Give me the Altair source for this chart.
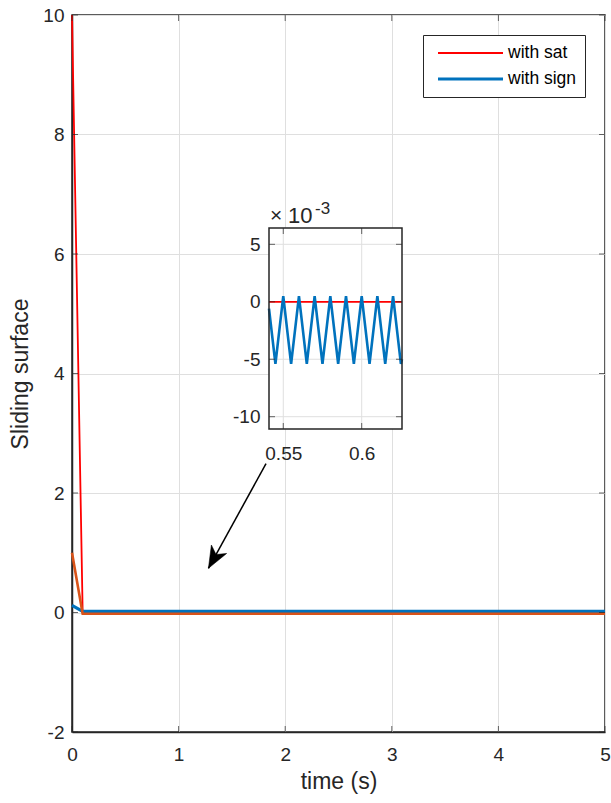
import altair as alt
import pandas as pd

FONT = "Liberation Sans"
AX = "#262626"
GRID = "#dfdfdf"

# ---------------- main plot data ----------------
x_ticks = [0, 1, 2, 3, 4, 5]
y_ticks = [-2, 0, 2, 4, 6, 8, 10]
x_domain = [0, 5]
y_domain = [-2, 10]

t_main = [0.0, 0.1, 5.0]
sat_main = [10.0, 0.0, 0.0]
sign_main = [0.12, 0.02, 0.02]
ref_main = [1.0, -0.02, -0.02]

series_names = ["with sat", "with sign"]
series_colors = ["#FF0000", "#0072BD"]
series_widths = [1.8, 3.2]
ref_color = "#D95319"

# ---------------- inset data (values in units of 1e-3) ----------------
zx_domain = [0.5409, 0.6257]
zy_domain = [-11.07, 6.42]
zx_ticks = [0.55, 0.6]
zy_ticks = [-10, -5, 0, 5]
t_zoom = [0.5409, 0.545, 0.55, 0.555, 0.56, 0.565, 0.57, 0.575, 0.58, 0.585,
          0.59, 0.595, 0.6, 0.605, 0.61, 0.615, 0.62, 0.625, 0.6257]
sign_zoom = [-0.6, -5.4, 0.5, -5.4, 0.5, -5.4, 0.5, -5.4, 0.5, -5.4,
             0.5, -5.4, 0.5, -5.4, 0.5, -5.4, 0.5, -5.4, -5.0]
t_zoom_sat = [0.5409, 0.6257]
sat_zoom = [0.0, 0.0]
exp_times = "×"
exp_base = "10"
exp_sup = "-3"

# arrow annotation (main-plot data coordinates)
arrow_t = [1.82, 1.28]
arrow_v = [2.49, 0.74]

# ---------------- layout (pixels) ----------------
W, H = 533, 717
INSET_X = [197, 330]
INSET_Y = [414, 213]

# ---------------- scales & axes ----------------
xs = alt.Scale(domain=x_domain, nice=False, zero=False)
ys = alt.Scale(domain=y_domain, nice=False, zero=False)
zxs = alt.Scale(domain=zx_domain, range=INSET_X, nice=False, zero=False)
zys = alt.Scale(domain=zy_domain, range=INSET_Y, nice=False, zero=False)

x_axis = alt.Axis(values=x_ticks, grid=True, gridColor=GRID, ticks=False,
                  domainColor=AX, domainWidth=1.5, labelColor=AX, labelFont=FONT,
                  labelFontSize=19, labelPadding=13, labelFlush=False, title="time (s)",
                  titleFont=FONT, titleFontSize=23, titleFontWeight="normal",
                  titleColor=AX, titlePadding=6,
                  labelExpr="toString(datum.value)")
y_axis = alt.Axis(values=y_ticks, grid=True, gridColor=GRID, ticks=False,
                  domainColor=AX, domainWidth=1.5, labelColor=AX, labelFont=FONT,
                  labelFontSize=19, labelPadding=8, labelFlush=False, title="Sliding surface",
                  titleFont=FONT, titleFontSize=23, titleFontWeight="normal",
                  titleColor=AX, titlePadding=10,
                  labelExpr="toString(datum.value)")
zx_axis = alt.Axis(values=zx_ticks, orient="bottom", offset=INSET_Y[0] - H,
                   domain=False, ticks=False, grid=False, labelColor=AX,
                   labelFont=FONT, labelFontSize=19, labelPadding=15, labelFlush=False,
                   title=None, labelExpr="toString(datum.value)")
zy_axis = alt.Axis(values=zy_ticks, orient="left", offset=-INSET_X[0],
                   domain=False, ticks=False, grid=False, labelColor=AX,
                   labelFont=FONT, labelFontSize=19, labelPadding=9, labelFlush=False,
                   title=None, labelExpr="toString(datum.value)")

legend = alt.Legend(orient="none", legendX=351, legendY=20, title=None,
                    symbolType="stroke", symbolSize=4225, clipHeight=20,
                    rowPadding=6, padding=8, symbolOffset=5, labelOffset=3,
                    labelFont=FONT, labelFontSize=17.5, labelColor="#000000",
                    strokeColor=AX, fillColor="white")
color_enc = alt.Color("series:N", scale=alt.Scale(domain=series_names, range=series_colors), legend=legend)
sw_enc = alt.StrokeWidth("series:O", scale=alt.Scale(domain=series_names, range=series_widths), legend=legend)


def MX(f):
    return alt.X(f, type="quantitative", scale=xs, axis=x_axis)


def MY(f):
    return alt.Y(f, type="quantitative", scale=ys, axis=y_axis)


def ZX(f):
    return alt.X(f, type="quantitative", scale=zxs, axis=zx_axis)


def ZY(f):
    return alt.Y(f, type="quantitative", scale=zys, axis=zy_axis)


# ---------------- main layers ----------------
sat_df = pd.DataFrame({"t": t_main, "v": sat_main, "series": [series_names[0]] * len(t_main)})
sign_df = pd.DataFrame({"t": t_main, "v": sign_main, "series": [series_names[1]] * len(t_main)})
ref_df = pd.DataFrame({"t": t_main, "v": ref_main})

red = alt.Chart(sat_df).mark_line().encode(x=MX("t"), y=MY("v"), color=color_enc, strokeWidth=sw_enc)
blue = alt.Chart(sign_df).mark_line().encode(x=MX("t"), y=MY("v"), color=color_enc, strokeWidth=sw_enc)
orange = alt.Chart(ref_df).mark_line(color=ref_color, strokeWidth=2.6).encode(x=MX("t"), y=MY("v"))

tb = pd.DataFrame({"x": x_ticks, "ylo": [y_domain[0]] * len(x_ticks), "yhi": [y_domain[1]] * len(x_ticks)})
tl = pd.DataFrame({"y": y_ticks, "xlo": [x_domain[0]] * len(y_ticks), "xhi": [x_domain[1]] * len(y_ticks)})
tick_kw = dict(color=AX, thickness=1, size=6)
mt_bottom = alt.Chart(tb).mark_tick(orient="vertical", yOffset=-3, **tick_kw).encode(x=MX("x"), y=MY("ylo"))
mt_top = alt.Chart(tb).mark_tick(orient="vertical", yOffset=3, **tick_kw).encode(x=MX("x"), y=MY("yhi"))
mt_left = alt.Chart(tl).mark_tick(orient="horizontal", xOffset=3, **tick_kw).encode(x=MX("xlo"), y=MY("y"))
mt_right = alt.Chart(tl).mark_tick(orient="horizontal", xOffset=-3, **tick_kw).encode(x=MX("xhi"), y=MY("y"))

arrow_df = pd.DataFrame({"t": [arrow_t[0]], "v": [arrow_v[0]], "t2": [arrow_t[1]], "v2": [arrow_v[1]]})
arrow_line = alt.Chart(arrow_df).mark_rule(color="#000000", strokeWidth=1.5).encode(
    x=MX("t"), y=MY("v"), x2="t2", y2="v2")
head_df = pd.DataFrame({"t": [arrow_t[1]], "v": [arrow_v[1]]})
arrow_head = alt.Chart(head_df).mark_point(
    shape="M0,0L-0.4,-1L0,-0.72L0.4,-1Z", filled=True, fill="#000000", stroke="#000000",
    strokeWidth=0.5, opacity=1, size=1900, angle=29).encode(x=MX("t"), y=MY("v"))

main = alt.layer(red, blue, orange, mt_bottom, mt_top, mt_left, mt_right, arrow_line, arrow_head)

# ---------------- inset layers ----------------
box_df = pd.DataFrame({"x": [zx_domain[0]], "x2": [zx_domain[1]], "y": [zy_domain[0]], "y2": [zy_domain[1]]})
z_bg = alt.Chart(box_df).mark_rect(fill="white").encode(x=ZX("x"), x2="x2", y=ZY("y"), y2="y2")
zgx_df = pd.DataFrame({"x": zx_ticks, "ylo": [zy_domain[0]] * len(zx_ticks), "yhi": [zy_domain[1]] * len(zx_ticks)})
zgy_df = pd.DataFrame({"y": zy_ticks, "xlo": [zx_domain[0]] * len(zy_ticks), "xhi": [zx_domain[1]] * len(zy_ticks)})
z_gx = alt.Chart(zgx_df).mark_rule(color=GRID, strokeWidth=1).encode(x=ZX("x"), y=ZY("ylo"), y2="yhi")
z_gy = alt.Chart(zgy_df).mark_rule(color=GRID, strokeWidth=1).encode(y=ZY("y"), x=ZX("xlo"), x2="xhi")

zsat_df = pd.DataFrame({"t": t_zoom_sat, "v": sat_zoom, "series": [series_names[0]] * len(t_zoom_sat)})
zsign_df = pd.DataFrame({"t": t_zoom, "v": sign_zoom, "series": [series_names[1]] * len(t_zoom)})
z_red = alt.Chart(zsat_df).mark_line().encode(x=ZX("t"), y=ZY("v"), color=color_enc, strokeWidth=sw_enc)
z_blue = alt.Chart(zsign_df).mark_line(strokeWidth=2.6).encode(x=ZX("t"), y=ZY("v"), color=color_enc)

zt_bottom = alt.Chart(zgx_df).mark_tick(orient="vertical", yOffset=-3, **tick_kw).encode(x=ZX("x"), y=ZY("ylo"))
zt_top = alt.Chart(zgx_df).mark_tick(orient="vertical", yOffset=3, **tick_kw).encode(x=ZX("x"), y=ZY("yhi"))
zt_left = alt.Chart(zgy_df).mark_tick(orient="horizontal", xOffset=3, **tick_kw).encode(x=ZX("xlo"), y=ZY("y"))
zt_right = alt.Chart(zgy_df).mark_tick(orient="horizontal", xOffset=-3, **tick_kw).encode(x=ZX("xhi"), y=ZY("y"))

z_frame = alt.Chart(box_df).mark_rect(fill=None, stroke=AX, strokeWidth=1.5).encode(
    x=ZX("x"), x2="x2", y=ZY("y"), y2="y2")

lab_df = pd.DataFrame({"x": [zx_domain[0]], "y": [zy_domain[1]],
                       "times": [exp_times], "base": [exp_base], "sup": [exp_sup]})
txt_kw = dict(align="left", baseline="alphabetic", font=FONT, color=AX)
z_times = alt.Chart(lab_df).mark_text(dx=1, dy=-6, fontSize=21, **txt_kw).encode(
    x=ZX("x"), y=ZY("y"), text="times:N")
z_base = alt.Chart(lab_df).mark_text(dx=19, dy=-5, fontSize=22, **txt_kw).encode(
    x=ZX("x"), y=ZY("y"), text="base:N")
z_sup = alt.Chart(lab_df).mark_text(dx=46, dy=-14, fontSize=17, **txt_kw).encode(
    x=ZX("x"), y=ZY("y"), text="sup:N")

inset = alt.layer(z_bg, z_gx, z_gy, z_red, z_blue, zt_bottom, zt_top, zt_left, zt_right,
                  z_frame, z_times, z_base, z_sup)

chart = alt.layer(main, inset).resolve_scale(x="independent", y="independent").properties(
    width=W, height=H,
    autosize=alt.AutoSizeParams(type="none"),
    padding={"left": 72, "top": 15, "right": 6, "bottom": 71},
    background="white",
).configure_view(stroke=AX, strokeWidth=1.5)

chart.save("out.html", embed_options={"renderer": "svg", "actions": False})
